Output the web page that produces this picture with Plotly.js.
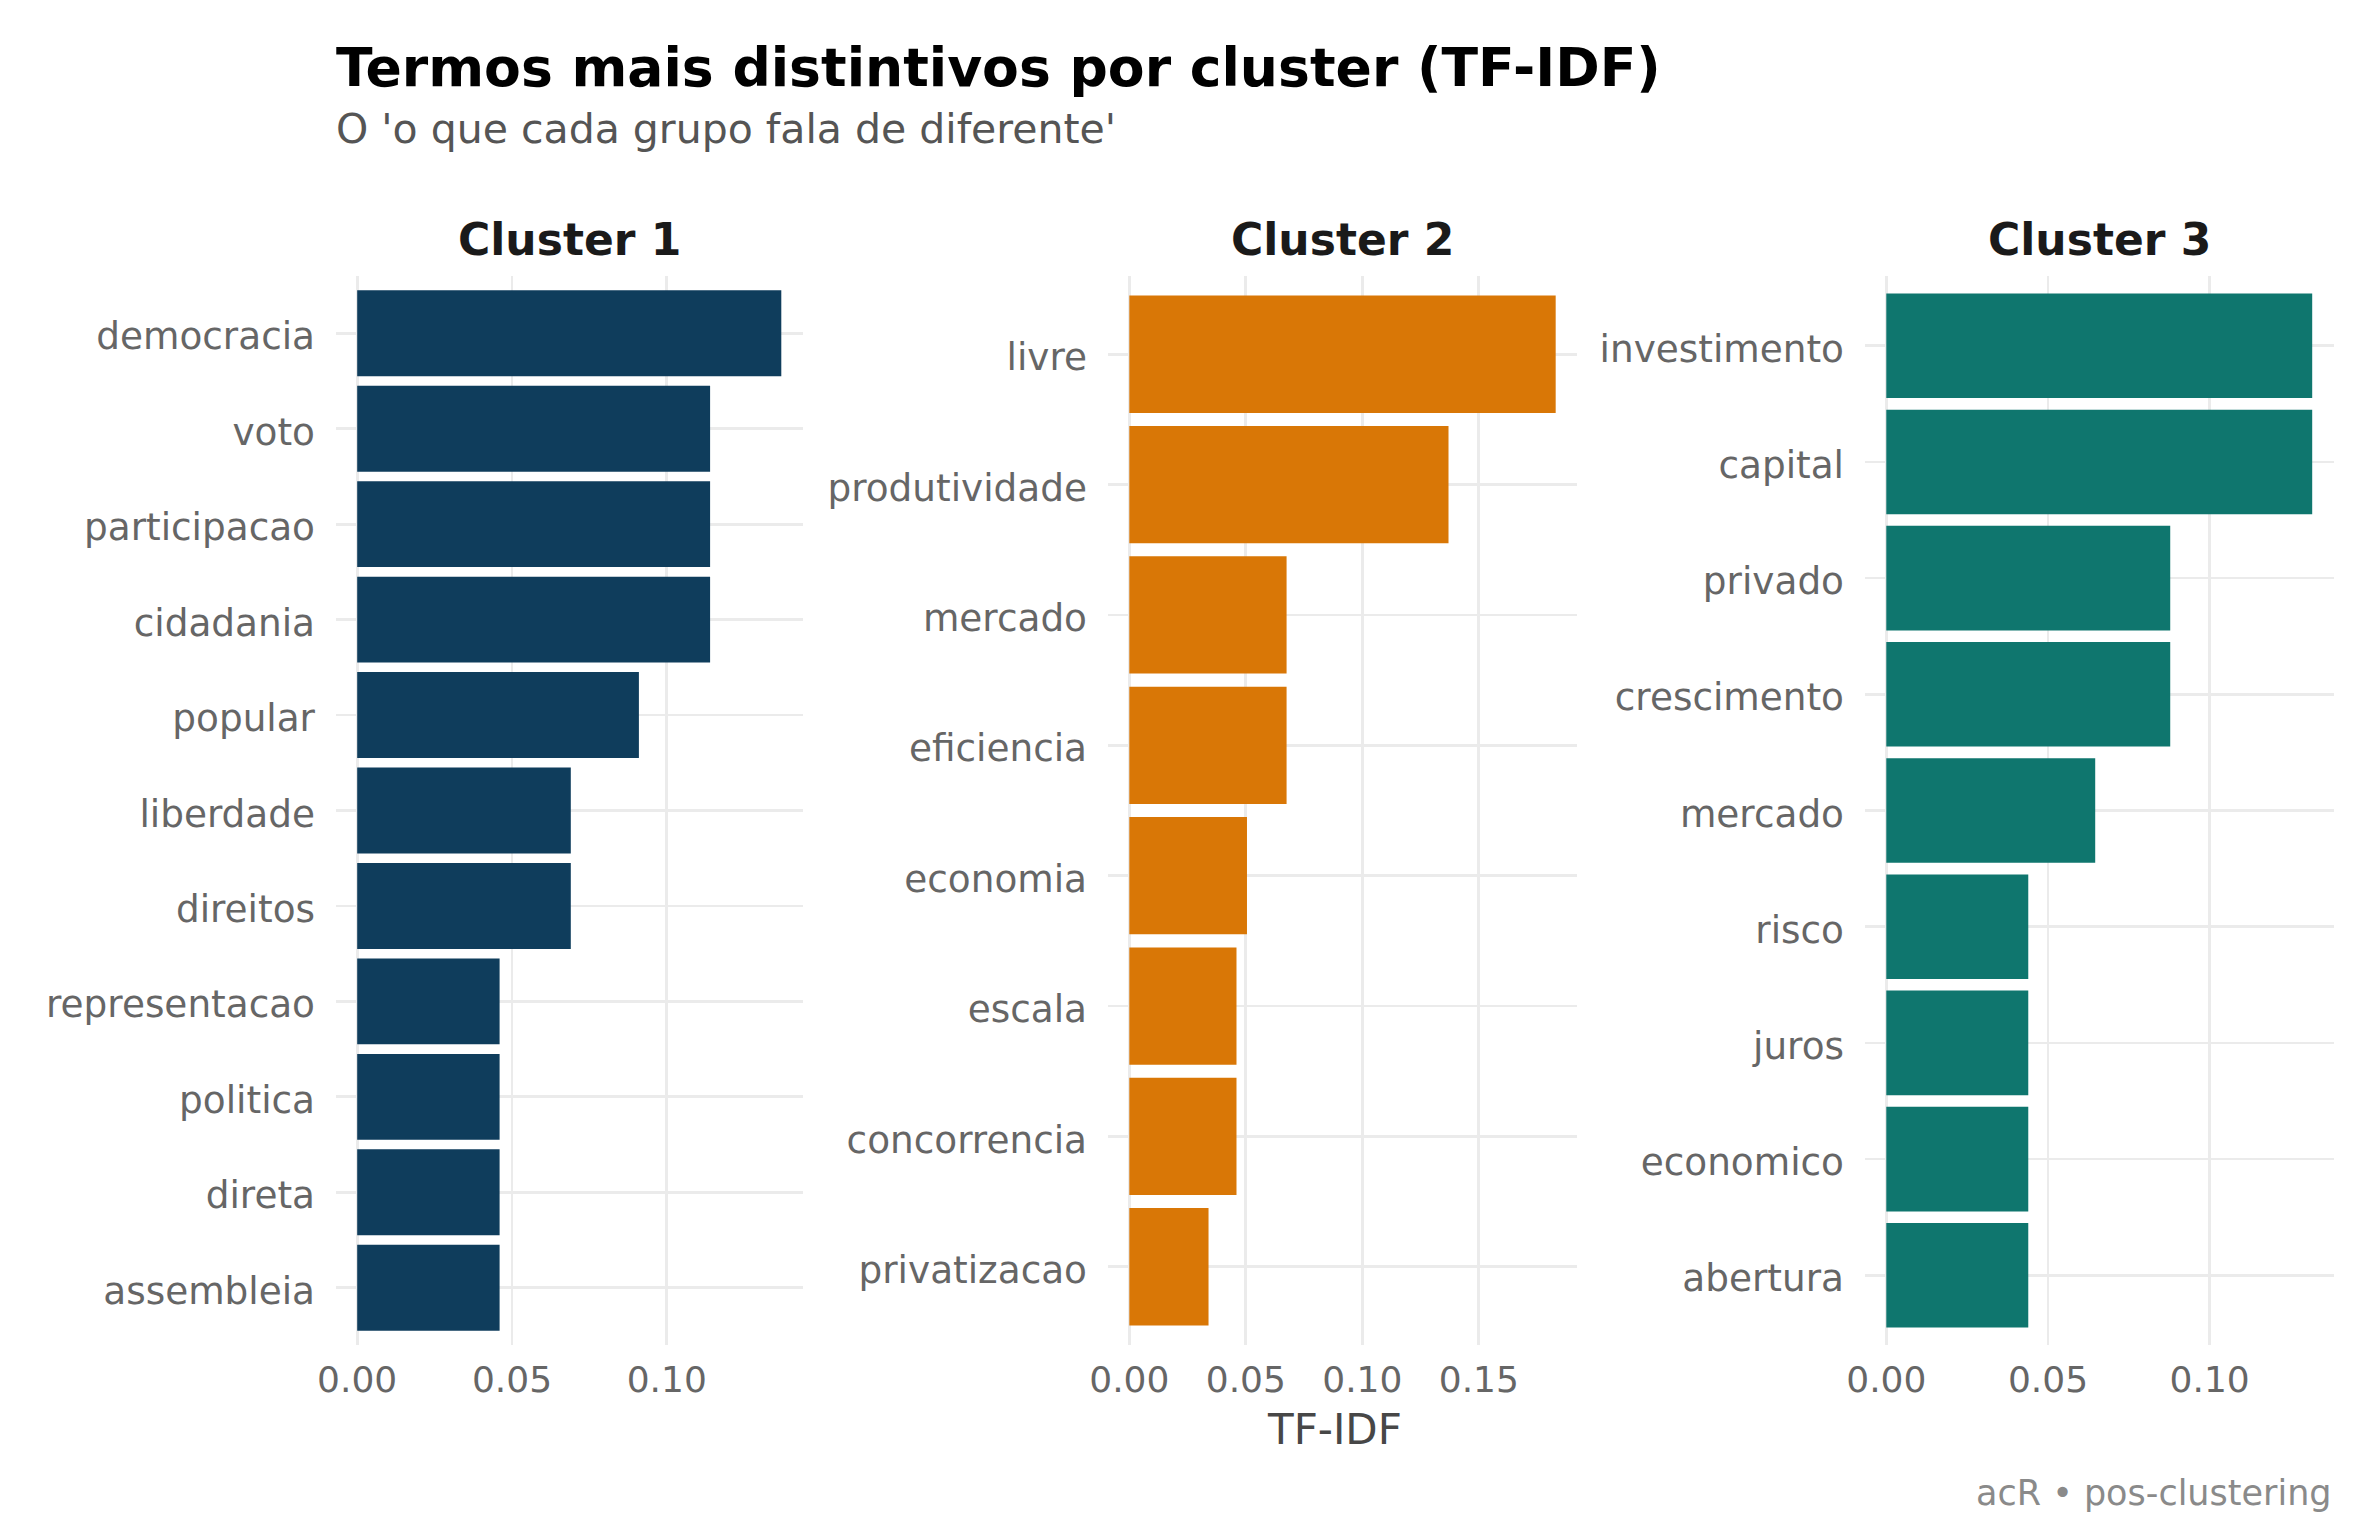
<!DOCTYPE html>
<html>
<head>
<meta charset="utf-8">
<script src="https://cdn.plot.ly/plotly-3.0.1.min.js"></script>
<style>
  body { margin: 0; background: #fff; }
</style>
</head>
<body>
<div id="chart" style="width:2380px;height:1540px"></div>
<script>
// Terms per cluster, listed top to bottom as drawn
const cluster1Terms = ['democracia', 'voto', 'participacao', 'cidadania', 'popular', 'liberdade',
  'direitos', 'representacao', 'politica', 'direta', 'assembleia'];
const cluster1Values = [0.137, 0.114, 0.114, 0.114, 0.091, 0.069, 0.069, 0.046, 0.046, 0.046, 0.046];

const cluster2Terms = ['livre', 'produtividade', 'mercado', 'eficiencia', 'economia', 'escala',
  'concorrencia', 'privatizacao'];
const cluster2Values = [0.183, 0.137, 0.0675, 0.0675, 0.0505, 0.046, 0.046, 0.034];

const cluster3Terms = ['investimento', 'capital', 'privado', 'crescimento', 'mercado', 'risco',
  'juros', 'economico', 'abertura'];
const cluster3Values = [0.1317, 0.1317, 0.0878, 0.0878, 0.0646, 0.0439, 0.0439, 0.0439, 0.0439];

const clusterNames = ['Cluster 1', 'Cluster 2', 'Cluster 3'];
const clusterColors = ['#0F3D5C', '#D97706', '#0F766E'];

const FONT = 'DejaVu Sans';
const W = 2380, H = 1540;

// panel edges in pixels (left, right), shared top/bottom
const panelX = [[336, 802.5], [1108, 1577], [1865, 2333.5]];
const panelTop = 276, panelBottom = 1345;
const yDomain = [1 - panelBottom / H, 1 - panelTop / H];

const clusters = [
  {terms: cluster1Terms, values: cluster1Values},
  {terms: cluster2Terms, values: cluster2Values},
  {terms: cluster3Terms, values: cluster3Values}
];

let data = [];
let layout = {
  width: W,
  height: H,
  margin: {l: 0, r: 0, t: 0, b: 0},
  paper_bgcolor: '#fff',
  plot_bgcolor: '#fff',
  showlegend: false,
  bargap: 0.1,
  font: {family: FONT, color: '#666666'},
  annotations: []
};

clusters.forEach((c, i) => {
  const n = i === 0 ? '' : String(i + 1);
  data.push({
    type: 'bar',
    orientation: 'h',
    x: c.values,
    y: c.terms,
    xaxis: 'x' + n,
    yaxis: 'y' + n,
    marker: {color: clusterColors[i]},
    hoverinfo: 'x+y'
  });

  const maxVal = Math.max(...c.values);
  layout['xaxis' + n] = {
    domain: [panelX[i][0] / W, panelX[i][1] / W],
    anchor: 'y' + n,
    range: [-0.05 * maxVal, 1.05 * maxVal],
    dtick: 0.05,
    tick0: 0,
    tickformat: '.2f',
    showgrid: true,
    gridcolor: '#EBEBEB',
    gridwidth: 2.7,
    zeroline: false,
    showline: false,
    ticks: '',
    ticklabelstandoff: 10,
    tickfont: {family: FONT, size: 36, color: '#666666'}
  };
  layout['yaxis' + n] = {
    domain: yDomain,
    anchor: 'x' + n,
    type: 'category',
    categoryorder: 'array',
    categoryarray: c.terms,
    range: [c.terms.length - 0.4, -0.6],
    showgrid: true,
    gridcolor: '#EBEBEB',
    gridwidth: 2.7,
    zeroline: false,
    showline: false,
    ticks: '',
    ticklabelstandoff: 20,
    ticklabelshift: -3,
    tickfont: {family: FONT, size: 37.4, color: '#666666'}
  };

  // facet strip title
  layout.annotations.push({
    text: '<b>' + clusterNames[i] + '</b>',
    xref: 'paper', yref: 'paper',
    x: (panelX[i][0] + panelX[i][1]) / 2 / W,
    y: 1 - (255 - 0.35 * 44) / H,
    xanchor: 'center', yanchor: 'middle',
    showarrow: false,
    font: {family: FONT, size: 44, color: '#1A1A1A'}
  });
});

// main title, subtitle, axis title and caption
layout.annotations.push(
  {
    text: '<b>Termos mais distintivos por cluster (TF-IDF)</b>',
    xref: 'paper', yref: 'paper',
    x: 334 / W, y: 1 - (86 - 0.35 * 53.6) / H,
    xanchor: 'left', yanchor: 'middle', showarrow: false,
    font: {family: FONT, size: 53.6, color: '#000000'}
  },
  {
    text: "O 'o que cada grupo fala de diferente'",
    xref: 'paper', yref: 'paper',
    x: 334 / W, y: 1 - (143 - 0.35 * 41) / H,
    xanchor: 'left', yanchor: 'middle', showarrow: false,
    font: {family: FONT, size: 41, color: '#555555'}
  },
  {
    text: 'TF-IDF',
    xref: 'paper', yref: 'paper',
    x: 1334.5 / W, y: 1 - (1444 - 0.35 * 42) / H,
    xanchor: 'center', yanchor: 'middle', showarrow: false,
    font: {family: FONT, size: 42, color: '#474747'}
  },
  {
    text: 'acR • pos-clustering',
    xref: 'paper', yref: 'paper',
    x: 2334 / W, y: 1 - (1505 - 0.35 * 35) / H,
    xanchor: 'right', yanchor: 'middle', showarrow: false,
    font: {family: FONT, size: 35, color: '#8A8A8A'}
  }
);

Plotly.newPlot('chart', data, layout, {displayModeBar: false, staticPlot: true});
</script>
</body>
</html>
